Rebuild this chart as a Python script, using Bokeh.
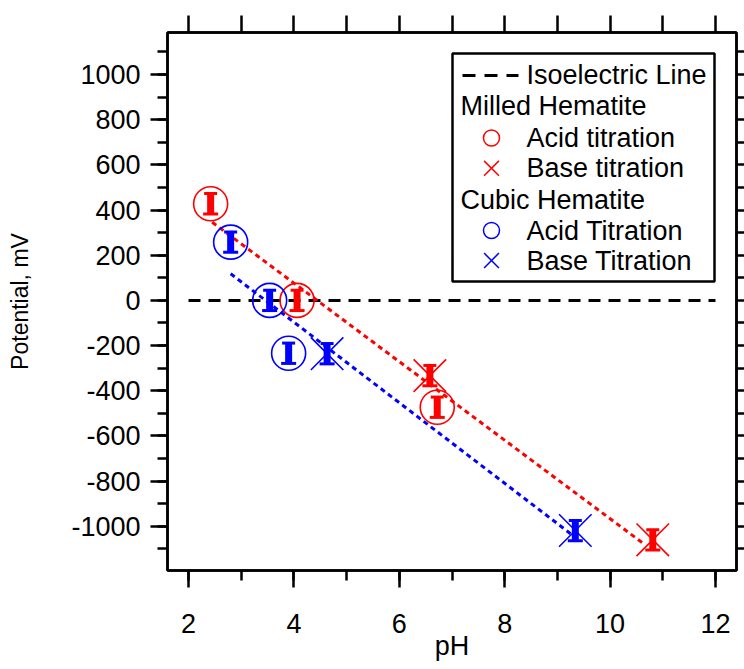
from bokeh.plotting import figure
from bokeh.models import (Range1d, LinearAxis, SingleIntervalTicker, FixedTicker, BoxAnnotation,
                          Label, CustomJSTickFormatter)
from bokeh.embed import file_html
from bokeh.resources import INLINE

# ---------------- data ----------------
milled_acid_ph = [2.42, 4.06, 6.72]
milled_acid_mv = [428, 0, -473]
milled_acid_err = [45, 45, 45]

milled_base_ph = [6.58, 10.81]
milled_base_mv = [-333, -1060]
milled_base_err = [45, 45]

cubic_acid_ph = [2.80, 3.54, 3.90]
cubic_acid_mv = [258, 0, -234]
cubic_acid_err = [45, 45, 45]

cubic_base_ph = [4.63, 9.34]
cubic_base_mv = [-236, -1019]
cubic_base_err = [45, 45]

milled_fit_ph = [2.45, 10.64]
milled_fit_mv = [346, -1078]
cubic_fit_ph = [2.80, 9.25]
cubic_fit_mv = [118, -1033]

iso_ph = [2, 12]
iso_mv = [0, 0]

top_ticks = [2, 3, 4, 5, 6, 7, 8, 9, 10, 11, 12]
right_ticks = [-1100, -1000, -900, -800, -700, -600, -500, -400, -300, -200, -100, 0,
               100, 200, 300, 400, 500, 600, 700, 800, 900, 1000, 1100]

legend_headers = ["Milled Hematite", "Cubic Hematite"]
legend_labels = ["Isoelectric Line", "Acid titration", "Base titration", "Acid Titration", "Base Titration"]

RED = "#ff0000"
BLUE = "#0000ff"
FONT = "Liberation Sans"
FS = "27px"


# canvas-pixel -> data helpers (layout only)
def px2ph(px):
    return 2 + (px - 188) / 52.7


def py2mv(py):
    return (299.9 - py) / 0.22585


p = figure(width=744, height=669, output_backend="svg", toolbar_location=None,
           x_range=Range1d(px2ph(167), px2ph(736)),
           y_range=Range1d(py2mv(570), py2mv(32)),
           min_border_left=167, min_border_right=8, min_border_top=32, min_border_bottom=99)
p.background_fill_color = "white"
p.border_fill_color = "white"
p.xgrid.grid_line_color = None
p.ygrid.grid_line_color = None
p.outline_line_color = "black"
p.outline_line_width = 2.5
p.outline_line_alpha = 1


def style_axis(ax, ticker, tick_out=17, minor_out=10):
    ax.ticker = ticker
    ax.axis_line_color = "black"
    ax.axis_line_width = 2.5
    ax.major_tick_line_color = "black"
    ax.major_tick_line_width = 2.5
    ax.minor_tick_line_color = "black"
    ax.minor_tick_line_width = 2.5
    ax.major_tick_in = 0
    ax.minor_tick_in = 0
    ax.major_tick_out = tick_out
    ax.minor_tick_out = minor_out
    ax.major_label_text_font = FONT
    ax.major_label_text_color = "black"
    ax.major_label_text_font_size = FS
    ax.axis_label_text_font = FONT
    ax.axis_label_text_font_style = "normal"
    ax.axis_label_text_color = "black"
    ax.axis_label_text_font_size = FS


style_axis(p.xaxis[0], SingleIntervalTicker(interval=2, num_minor_ticks=2))
p.xaxis[0].formatter = CustomJSTickFormatter(code="return tick.toFixed(0);")
p.xaxis[0].axis_label = "pH"
p.xaxis[0].major_label_standoff = 26
p.xaxis[0].axis_label_standoff = -5

style_axis(p.yaxis[0], SingleIntervalTicker(interval=200, num_minor_ticks=2))
p.yaxis[0].formatter = CustomJSTickFormatter(code="return tick.toFixed(0);")
p.yaxis[0].axis_label = "Potential, mV"
p.yaxis[0].axis_label_text_font_size = "23px"
p.yaxis[0].major_label_standoff = 10
p.yaxis[0].axis_label_standoff = 35

# top and right axes: ticks only (minor ticks -> no labels)
top = LinearAxis()
style_axis(top, FixedTicker(ticks=[], minor_ticks=top_ticks), tick_out=17, minor_out=17)
top.major_label_standoff = 0
top.axis_label_standoff = 0
p.add_layout(top, "above")

right = LinearAxis()
style_axis(right, FixedTicker(ticks=[], minor_ticks=right_ticks), tick_out=8, minor_out=8)
right.major_label_standoff = 0
right.axis_label_standoff = 0
p.add_layout(right, "right")

# isoelectric line
p.line(iso_ph, iso_mv, line_color="black", line_width=3, line_dash="12 8")

# fit lines
p.line(milled_fit_ph, milled_fit_mv, line_color=RED, line_width=3, line_dash="5 4")
p.line(cubic_fit_ph, cubic_fit_mv, line_color=BLUE, line_width=3, line_dash="5 4")


def errorbars(xs, ys, es, color):
    lo = [y - e for y, e in zip(ys, es)]
    hi = [y + e for y, e in zip(ys, es)]
    p.segment(xs, lo, xs, hi, line_color=color, line_width=7)
    p.scatter(xs, lo, marker="dash", size=15, line_color=color, line_width=3)
    p.scatter(xs, hi, marker="dash", size=13, line_color=color, line_width=3)


errorbars(milled_acid_ph, milled_acid_mv, milled_acid_err, RED)
errorbars(milled_base_ph, milled_base_mv, milled_base_err, RED)
errorbars(cubic_acid_ph, cubic_acid_mv, cubic_acid_err, BLUE)
errorbars(cubic_base_ph, cubic_base_mv, cubic_base_err, BLUE)

p.scatter(milled_acid_ph, milled_acid_mv, marker="circle", size=34, fill_color=None,
          line_color=RED, line_width=1.6)
p.scatter(milled_base_ph, milled_base_mv, marker="x", size=46, line_color=RED, line_width=1.6)
p.scatter(cubic_acid_ph, cubic_acid_mv, marker="circle", size=34, fill_color=None,
          line_color=BLUE, line_width=1.6)
p.scatter(cubic_base_ph, cubic_base_mv, marker="x", size=46, line_color=BLUE, line_width=1.6)

# ---------------- legend (custom) ----------------
p.add_layout(BoxAnnotation(left=px2ph(452), right=px2ph(714), top=py2mv(53), bottom=py2mv(281),
                           fill_color="white", fill_alpha=1.0, line_color="black", line_alpha=1.0,
                           line_width=2.5, level="underlay"))

p.line([px2ph(462), px2ph(518)], [py2mv(75), py2mv(75)], line_color="black", line_width=3,
       line_dash="13 9")
p.scatter([px2ph(491)], [py2mv(137.5)], marker="circle", size=16, fill_color=None,
          line_color=RED, line_width=1.5)
p.scatter([px2ph(491)], [py2mv(167.8)], marker="x", size=21, line_color=RED, line_width=1.5)
p.scatter([px2ph(491)], [py2mv(230)], marker="circle", size=16, fill_color=None,
          line_color=BLUE, line_width=1.5)
p.scatter([px2ph(491)], [py2mv(260)], marker="x", size=21, line_color=BLUE, line_width=1.5)

label_centers = [74.5, 137.5, 167.8, 230, 260]
for txt, cy in zip(legend_labels, label_centers):
    p.add_layout(Label(x=px2ph(526), y=py2mv(cy), text=txt, text_font=FONT, text_font_size=FS,
                       text_color="black", text_baseline="middle", text_align="left"))
for txt, cy in zip(legend_headers, [105.8, 199.5]):
    p.add_layout(Label(x=px2ph(460), y=py2mv(cy), text=txt, text_font=FONT, text_font_size=FS,
                       text_color="black", text_baseline="middle", text_align="left"))

open("out.html", "w").write(file_html(p, INLINE))
